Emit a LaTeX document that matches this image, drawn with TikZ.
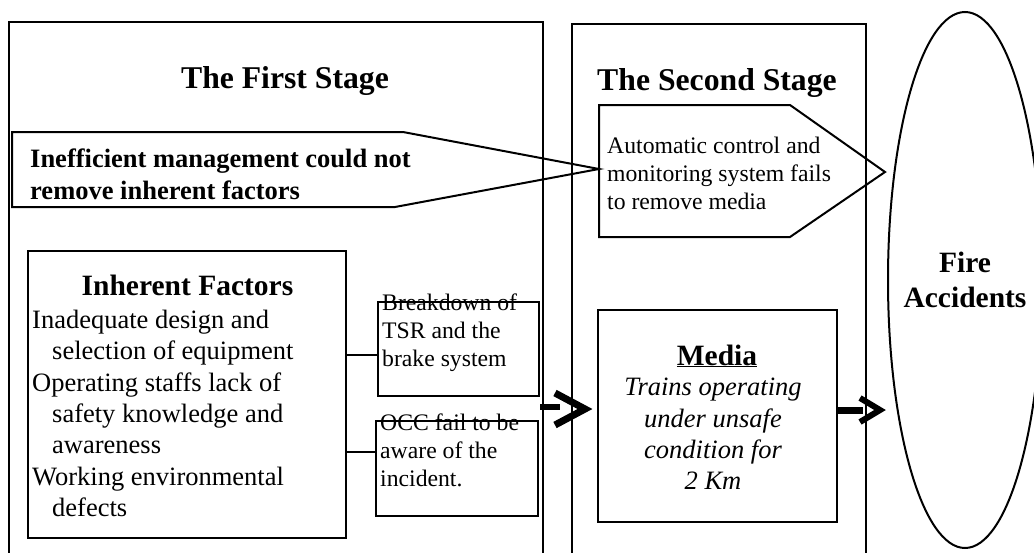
\documentclass[tikz,border=0pt]{standalone}
\usepackage{fontspec}
\setmainfont{Liberation Serif}
\usetikzlibrary{shapes.geometric}

% text sizes (1pt = one unit of the drawing)
\newcommand\txtbody{\fontsize{26.5}{31.3}\selectfont}
\newcommand\txtsmall{\fontsize{23.7}{27.7}\selectfont}
\newcommand\txtstage{\fontsize{31.7}{38}\selectfont\bfseries}
\newcommand\txthead{\fontsize{29.5}{35}\selectfont\bfseries}
\newcommand\txtmgmt{\fontsize{26.5}{32}\selectfont\bfseries}

\begin{document}
\begin{tikzpicture}[x=1pt,y=-1pt,line join=miter,
  frame/.style={draw,line width=2pt},
  box/.style={draw,line width=2pt,inner sep=0pt},
  txt/.style={inner sep=0pt,anchor=north west,align=left},
  bar/.style={line width=7pt,line cap=butt},
  chev/.style={line width=7pt,line cap=butt,line join=miter}]
\useasboundingbox (0,0) rectangle (1034,552);
\clip (0,0) rectangle (1034,552);

% the two stages, open at the bottom
\draw[frame] (9,570) -- (9,22) -- (543,22) -- (543,570);
\draw[frame] (572,570) -- (572,24) -- (866,24) -- (866,570);
\node[font=\txtstage,anchor=base,inner sep=0pt] (t1) at (285,88) {The First Stage};
\node[font=\txtstage,anchor=base,inner sep=0pt] (t2) at (717,90) {The Second Stage};

% management arrow
\draw[frame] (12,132) -- (403,132) -- (599,169) -- (395,207) -- (12,207) -- cycle;
\node[txt,font=\txtmgmt] (mgmt) at (30,149) {Inefficient management could not\\remove inherent factors};

% monitoring arrow
\draw[frame] (599,105) -- (790,105) -- (885,172) -- (790,237) -- (599,237) -- cycle;
\node[txt,font=\txtsmall] (auto) at (607,137) {Automatic control and\\monitoring system fails\\to remove media};

% inherent factors
\node[box,minimum width=318pt,minimum height=287pt] (inh) at (187,394.5) {};
\node[font=\txthead,anchor=base,inner sep=0pt] (inhT) at (187.5,295) {Inherent Factors};
\node[txt,font=\txtbody] (inhL) at (32,310) {Inadequate design and\\
\hspace*{20pt}selection of equipment\\
Operating staffs lack of\\
\hspace*{20pt}safety knowledge and\\
\hspace*{20pt}awareness\\
Working environmental\\
\hspace*{20pt}defects};

% triggering events
\node[box,minimum width=161pt,minimum height=94pt] (b1) at (458.5,349) {};
\node[txt,font=\txtsmall] (b1T) at (382,294) {Breakdown of\\TSR and the\\brake system};
\node[box,minimum width=161.5pt,minimum height=95pt] (b2) at (456.75,468.5) {};
\node[txt,font=\txtsmall] (b2T) at (380,414) {OCC fail to be\\aware of the\\incident.};

\coordinate (y1) at (0,355);
\coordinate (y2) at (0,452);
\draw[line width=2pt] (inh.east |- y1) -- (b1.west |- y1);
\draw[line width=2pt] (inh.east |- y2) -- (b2.west |- y2);

% media
\node[box,minimum width=239pt,minimum height=212pt] (media) at (717.5,416) {};
\node[font=\txthead,anchor=base,inner sep=0pt] (mediaT) at (717,365) {\underline{Media}};
\node[inner sep=0pt,anchor=north,align=center,font=\txtbody\itshape] (mediaL) at (713,378) {Trains operating\\under unsafe\\condition for\\2 Km};

% outcome
\node[draw,line width=2pt,ellipse,minimum width=154pt,minimum height=536pt,inner sep=0pt] (fire) at (965,280) {};
\node[align=center,font=\txthead,inner sep=0pt] (fireT) at (fire.center) {Fire\\Accidents};

% thick arrows
\coordinate (a1s) at (540,407);
\coordinate (a1e) at (560,407);
\draw[line width=6pt] (a1s) -- (a1e);
\draw[chev] (555,393) -- (585,409) -- (555,425);

\coordinate (y3) at (0,410);
\coordinate (a2e) at (863,410);
\draw[bar] (media.east |- y3) -- (a2e);
\draw[line width=6pt,line join=miter] (860,398) -- (880,410) -- (860,422);
\end{tikzpicture}
\end{document}
